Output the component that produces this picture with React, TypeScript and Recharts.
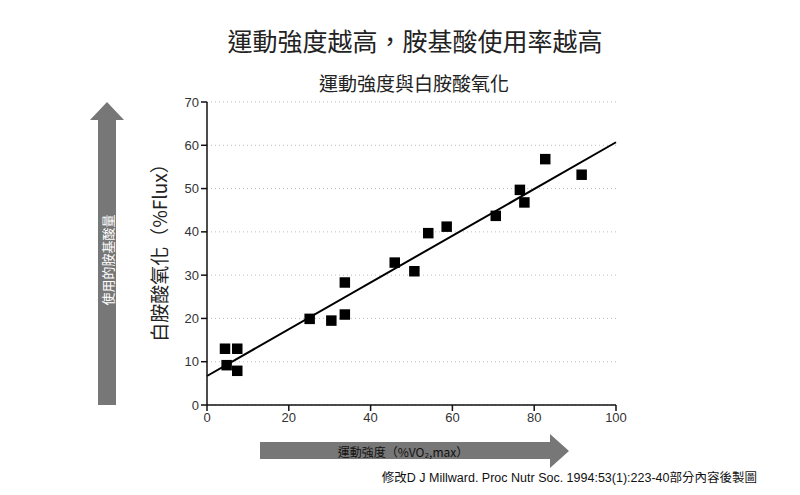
import React from 'react';
import { ComposedChart, Scatter, Line, XAxis, YAxis, ZAxis, CartesianGrid } from 'recharts';

// measured points: exercise intensity (%VO2max) vs leucine oxidation (%Flux)
const intensity = [4.4, 7.4, 4.8, 7.4, 25.1, 30.4, 33.7, 33.7, 45.9, 50.7, 54.1, 58.6, 70.6, 76.5, 77.6, 82.7, 91.6];
const oxidation = [13.0, 13.0, 9.2, 7.9, 19.9, 19.5, 20.9, 28.3, 32.9, 30.9, 39.7, 41.2, 43.7, 49.7, 46.8, 56.8, 53.2];

// fitted regression line end points
const fitX = [0, 100];
const fitY = [6.7, 60.7];

const xTicks = [0, 20, 40, 60, 80, 100];
const yTicks = [0, 10, 20, 30, 40, 50, 60, 70];

const points = intensity.map((x, i) => ({ x, y: oxidation[i] }));
const fitLine = fitX.map((x, i) => ({ x, fit: fitY[i] }));

const CJK = '"Noto Sans CJK TC", "Noto Sans CJK SC", sans-serif';
const LATIN = '"Liberation Sans", Arial, sans-serif';

export default function App() {
  return (
    <div style={{ position: 'absolute', left: 0, top: 0, width: 800, height: 495, background: '#fff' }}>
      <ComposedChart
        width={800}
        height={495}
        margin={{ top: 102, right: 184, left: 172, bottom: 60 }}
      >
        <CartesianGrid horizontal vertical={false} stroke="#bdbdbd" strokeDasharray="1 3" />
        <XAxis
          dataKey="x"
          type="number"
          domain={[0, 100]}
          ticks={xTicks}
          height={30}
          tickSize={6}
          axisLine={{ stroke: '#111', strokeWidth: 1.5 }}
          tickLine={{ stroke: '#111', strokeWidth: 1.5 }}
          tick={{ fill: '#333', fontSize: 13, fontFamily: LATIN }}
          allowDuplicatedCategory={false}
        />
        <YAxis
          type="number"
          domain={[0, 70]}
          ticks={yTicks}
          width={35}
          tickSize={6}
          axisLine={{ stroke: '#111', strokeWidth: 1.5 }}
          tickLine={{ stroke: '#111', strokeWidth: 1.5 }}
          tick={{ fill: '#333', fontSize: 13, fontFamily: LATIN }}
        />
        <ZAxis range={[110, 110]} />
        <Line
          data={fitLine}
          dataKey="fit"
          type="linear"
          stroke="#000"
          strokeWidth={2}
          dot={false}
          isAnimationActive={false}
        />
        <Scatter data={points} dataKey="y" fill="#000" shape="square" isAnimationActive={false} />
      </ComposedChart>

      <svg
        width={800}
        height={495}
        style={{ position: 'absolute', left: 0, top: 0, pointerEvents: 'none' }}
      >
        <text x={415} y={51} textAnchor="middle" fontSize={25} fontFamily={CJK} fill="#222">
          運動強度越高，胺基酸使用率越高
        </text>
        <text x={414} y={91} textAnchor="middle" fontSize={19} fontFamily={CJK} fill="#222">
          運動強度與白胺酸氧化
        </text>

        {/* left arrow */}
        <polygon points="98,405 116,405 116,120 124,120 107,102 90,120 98,120" fill="#777" />
        <text
          x={107}
          y={260}
          transform="rotate(-90 107 260)"
          textAnchor="middle"
          dominantBaseline="central"
          fontSize={13}
          fontFamily={CJK}
          fill="#fff"
        >
          使用的胺基酸量
        </text>

        {/* y axis title */}
        <text
          x={158}
          y={248}
          transform="rotate(-90 158 248)"
          textAnchor="middle"
          dominantBaseline="central"
          fontSize={19}
          fontFamily={CJK}
          fill="#222"
        >
          白胺酸氧化（%Flux）
        </text>

        {/* bottom arrow */}
        <polygon points="260,442 550,442 550,434 569,451 550,468 550,459 260,459" fill="#777" />
        <text x={403} y={451} textAnchor="middle" dominantBaseline="central" fontSize={12} fontFamily={CJK} fill="#111">
          運動強度（%VO₂,max）
        </text>

        <text x={757} y={482} textAnchor="end" fontSize={12.5} fontFamily={CJK} fill="#111">
          修改<tspan fontFamily={LATIN}>D J Millward. Proc Nutr Soc. 1994:53(1):223-40</tspan>部分內容後製圖
        </text>
      </svg>
    </div>
  );
}
